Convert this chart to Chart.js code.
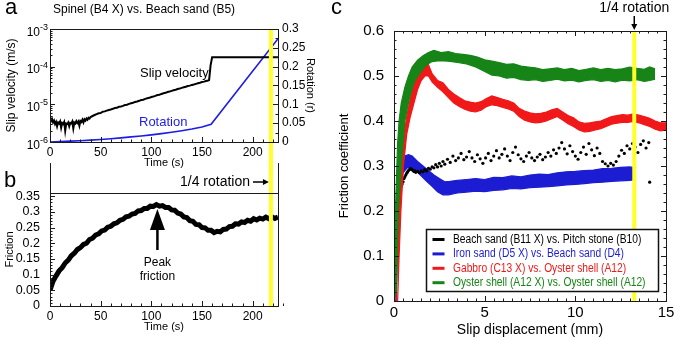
<!DOCTYPE html>
<html>
<head>
<meta charset="utf-8">
<script src="https://cdn.jsdelivr.net/npm/chart.js@4.4.1/dist/chart.umd.min.js"></script>
<style>
  html, body { margin: 0; padding: 0; background: #fff; }
  #wrap { position: relative; width: 685px; height: 340px; overflow: hidden; background: #fff; }
  canvas { position: absolute; }
</style>
</head>
<body>
<div id="wrap">
  <canvas id="chartA" width="318" height="175" style="left:0;top:0"></canvas>
  <canvas id="chartB" width="300" height="180" style="left:0;top:160px"></canvas>
  <canvas id="chartC" width="367" height="340" style="left:318px;top:0"></canvas>
</div>
<script>
// panel a : slip velocity (m/s) vs time (s)
const slipVelocity = [
  [0,4.4e-6],[1,3.6e-6],[2,4.1e-6],[3,3.3e-6],[4,3.7e-6],[5,3.0e-6],[6,3.4e-6],[7,2.6e-6],[8,3.3e-6],[9,3.1e-6],
  [10,3.5e-6],[11,2.4e-6],[12,3.2e-6],[13,3.0e-6],[14,3.4e-6],[15,2.0e-6],[16,3.1e-6],[17,3.0e-6],[18,3.3e-6],[19,2.6e-6],
  [20,3.2e-6],[21,3.1e-6],[22,3.5e-6],[23,2.3e-6],[24,3.3e-6],[25,3.1e-6],[26,3.6e-6],[27,3.2e-6],[28,3.5e-6],[29,2.7e-6],
  [30,3.6e-6],[31,3.4e-6],[32,3.9e-6],[33,3.3e-6],[34,4.0e-6],[35,3.7e-6],[36,4.2e-6],[37,3.9e-6],[38,4.4e-6],[39,4.2e-6],
  [40,4.6e-6],[42,4.9e-6],[44,5.2e-6],[46,5.5e-6],[48,5.8e-6],[50,5.9e-6],[52,6.4e-6],[54,6.5e-6],[56,6.8e-6],[58,7.1e-6],
  [60,7.3e-6],[62,7.6e-6],[64,8.0e-6],[66,8.1e-6],[68,8.6e-6],[70,8.8e-6],[72,9.1e-6],[74,9.6e-6],[76,9.8e-6],[78,1.03e-5],
  [80,1.07e-5],[82,1.1e-5],[84,1.16e-5],[86,1.19e-5],[88,1.24e-5],[90,1.3e-5],[92,1.33e-5],[94,1.4e-5],[96,1.45e-5],[98,1.49e-5],
  [100,1.57e-5],[102,1.62e-5],[104,1.68e-5],[106,1.76e-5],[108,1.8e-5],[110,1.89e-5],[112,1.96e-5],[114,2.02e-5],[116,2.12e-5],[118,2.18e-5],
  [120,2.28e-5],[122,2.36e-5],[124,2.44e-5],[126,2.55e-5],[128,2.62e-5],[130,2.74e-5],[132,2.83e-5],[134,2.93e-5],[136,3.06e-5],[138,3.14e-5],
  [140,3.28e-5],[142,3.37e-5],[144,3.5e-5],[146,3.63e-5],[148,3.74e-5],[150,3.9e-5],[152,4.0e-5],[154,4.16e-5],[156,4.3e-5],[157,4.4e-5],
  [158.5,1.1e-4],[160,1.78e-4],[225,1.78e-4]
];
// panel a : rotation (r) vs time (s)
const rotation = [
  [0,0],[10,0.001],[20,0.0022],[30,0.0035],[40,0.005],[50,0.0068],[60,0.0088],[70,0.011],[80,0.0135],[90,0.016],
  [100,0.019],[110,0.0222],[120,0.026],[130,0.03],[140,0.0345],[150,0.04],[159,0.047],[225,0.274]
];
// panel b : friction vs time (s)
const friction = [
  [0,0.05],[3,0.079],[6,0.096],[9,0.112],[12,0.122],[15,0.137],[18,0.146],[21,0.16],[24,0.168],[27,0.18],
  [30,0.186],[33,0.196],[36,0.2],[39,0.212],[42,0.216],[45,0.226],[48,0.23],[51,0.239],[54,0.242],[57,0.251],
  [60,0.254],[63,0.262],[66,0.265],[69,0.273],[72,0.276],[75,0.284],[78,0.286],[81,0.293],[84,0.295],[87,0.303],
  [90,0.304],[93,0.311],[96,0.311],[99,0.318],[102,0.317],[105,0.323],[108,0.318],[111,0.32],[114,0.314],[117,0.314],
  [120,0.306],[123,0.305],[126,0.296],[129,0.293],[132,0.284],[135,0.282],[138,0.272],[141,0.27],[144,0.26],[147,0.259],
  [150,0.25],[153,0.249],[156,0.241],[159,0.241],[162,0.234],[165,0.238],[168,0.236],[171,0.244],[174,0.245],[177,0.253],
  [180,0.254],[183,0.262],[186,0.261],[189,0.268],[192,0.266],[195,0.273],[198,0.27],[201,0.278],[204,0.274],[207,0.28],
  [210,0.277],[213,0.283],[216,0.278],[219,0.284],[222,0.279],[225,0.283]
];
const quarterTime = 218;     // time of 1/4 rotation (s)
const peakTime = 106;        // peak friction arrow
const peakArrowTip = 0.309;

// panel c : friction coefficient vs slip displacement (mm), dense bands given by upper / lower edge
const greenUpper = [
  [0,0.02],[0.03,0.1],[0.08,0.2],[0.14,0.28],[0.2,0.35],[0.28,0.4],[0.4,0.44],[0.6,0.475],[0.8,0.5],[1.0,0.52],
  [1.3,0.535],[1.6,0.545],[1.9,0.552],[2.2,0.557],[2.6,0.552],[3.0,0.554],[3.4,0.55],[3.8,0.548],[4.2,0.546],[4.6,0.542],
  [5.0,0.536],[5.4,0.533],[5.8,0.53],[6.2,0.526],[6.6,0.527],[7.0,0.522],[7.4,0.52],[7.8,0.518],[8.2,0.514],[8.6,0.516],
  [9.0,0.518],[9.4,0.514],[9.8,0.517],[10.2,0.512],[10.6,0.515],[11.0,0.518],[11.4,0.514],[11.8,0.517],[12.2,0.514],[12.6,0.516],
  [13.0,0.52],[13.4,0.517],[13.8,0.515],[14.1,0.52],[14.4,0.516]
];
const greenLower = [
  [0,0],[0.12,0.02],[0.18,0.1],[0.24,0.2],[0.4,0.3],[0.6,0.4],[0.85,0.45],[1.1,0.485],[1.4,0.505],[1.8,0.525],
  [2.1,0.532],[2.5,0.534],[3.0,0.533],[3.5,0.53],[4.0,0.527],[4.5,0.52],[5.0,0.51],[5.4,0.502],[5.8,0.5],[6.2,0.495],
  [6.6,0.497],[7.0,0.492],[7.4,0.49],[7.8,0.492],[8.2,0.488],[8.6,0.49],[9.0,0.493],[9.4,0.489],[9.8,0.491],[10.2,0.487],
  [10.6,0.49],[11.0,0.492],[11.4,0.488],[11.8,0.49],[12.2,0.487],[12.6,0.491],[13.0,0.489],[13.4,0.492],[13.8,0.488],[14.1,0.49],[14.4,0.493]
];
const redUpper = [
  [0.1,0],[0.18,0.1],[0.28,0.2],[0.4,0.3],[0.55,0.37],[0.7,0.41],[0.9,0.45],[1.1,0.48],[1.3,0.505],[1.5,0.52],
  [1.7,0.528],[1.9,0.525],[2.1,0.505],[2.4,0.49],[2.7,0.485],[3.0,0.47],[3.3,0.46],[3.6,0.452],[3.9,0.445],[4.2,0.442],
  [4.5,0.44],[4.8,0.443],[5.1,0.45],[5.4,0.456],[5.7,0.452],[6.0,0.448],[6.3,0.445],[6.6,0.44],[6.9,0.428],[7.2,0.422],
  [7.5,0.418],[7.8,0.416],[8.1,0.417],[8.4,0.42],[8.7,0.425],[9.0,0.428],[9.3,0.42],[9.6,0.412],[9.9,0.407],[10.2,0.398],
  [10.5,0.395],[10.8,0.396],[11.1,0.398],[11.4,0.4],[11.7,0.405],[12.0,0.41],[12.3,0.412],[12.6,0.414],[12.9,0.413],[13.2,0.416],
  [13.5,0.413],[13.8,0.41],[14.1,0.406],[14.4,0.4],[14.7,0.396],[15.0,0.396]
];
const redLower = [
  [0.2,0],[0.28,0.1],[0.38,0.2],[0.52,0.3],[0.7,0.37],[0.9,0.41],[1.1,0.44],[1.3,0.47],[1.5,0.49],[1.7,0.5],
  [1.9,0.5],[2.1,0.487],[2.4,0.475],[2.7,0.465],[3.0,0.452],[3.3,0.44],[3.6,0.432],[3.9,0.426],[4.2,0.422],[4.5,0.42],
  [4.8,0.424],[5.1,0.432],[5.4,0.436],[5.7,0.434],[6.0,0.43],[6.3,0.427],[6.6,0.422],[6.9,0.41],[7.2,0.402],[7.5,0.398],
  [7.8,0.396],[8.1,0.397],[8.4,0.4],[8.7,0.405],[9.0,0.41],[9.3,0.402],[9.6,0.394],[9.9,0.388],[10.2,0.38],[10.5,0.376],
  [10.8,0.377],[11.1,0.38],[11.4,0.383],[11.7,0.388],[12.0,0.393],[12.3,0.395],[12.6,0.397],[12.9,0.397],[13.2,0.399],[13.5,0.396],
  [13.8,0.392],[14.1,0.388],[14.4,0.382],[14.7,0.378],[15.0,0.38]
];
const blueUpper = [
  [0.05,0],[0.1,0.1],[0.15,0.2],[0.22,0.26],[0.3,0.29],[0.45,0.31],[0.6,0.322],[0.8,0.325],[1.0,0.322],[1.3,0.31],
  [1.6,0.3],[1.9,0.29],[2.2,0.28],[2.5,0.272],[2.8,0.265],[3.1,0.266],[3.5,0.268],[4.0,0.27],[4.5,0.272],[5.0,0.27],
  [5.5,0.275],[6.0,0.274],[6.5,0.278],[7.0,0.276],[7.5,0.28],[8.0,0.282],[8.5,0.281],[9.0,0.285],[9.5,0.287],[10.0,0.288],
  [10.5,0.29],[11.0,0.291],[11.5,0.294],[12.0,0.295],[12.5,0.297],[13.0,0.298],[13.35,0.296]
];
const blueLower = [
  [0.12,0],[0.18,0.1],[0.25,0.2],[0.35,0.26],[0.5,0.285],[0.7,0.295],[0.9,0.298],[1.2,0.29],[1.5,0.278],[1.8,0.266],
  [2.1,0.255],[2.4,0.243],[2.7,0.236],[3.0,0.236],[3.5,0.24],[4.0,0.242],[4.5,0.244],[5.0,0.243],[5.5,0.246],[6.0,0.247],
  [6.5,0.25],[7.0,0.249],[7.5,0.252],[8.0,0.253],[8.5,0.254],[9.0,0.256],[9.5,0.258],[10.0,0.259],[10.5,0.261],[11.0,0.263],
  [11.5,0.264],[12.0,0.266],[12.5,0.267],[13.0,0.268],[13.35,0.27]
];
const blackPoints = [
  [0.02,0.0],[0.05,0.05],[0.1,0.12],[0.15,0.17],[0.2,0.2],[0.25,0.22],[0.3,0.235],[0.35,0.245],[0.4,0.255],[0.45,0.26],
  [0.5,0.265],[0.55,0.272],[0.6,0.276],[0.65,0.28],[0.7,0.284],[0.75,0.287],[0.8,0.29],[0.85,0.292],[0.9,0.294],[0.95,0.293],
  [1.0,0.292],[1.05,0.29],[1.1,0.288],[1.15,0.289],[1.2,0.286],[1.3,0.288],[1.4,0.285],[1.5,0.289],[1.6,0.287],[1.7,0.292],
  [1.8,0.289],[1.9,0.295],[2.0,0.293],[2.1,0.298],[2.2,0.296],[2.3,0.303],[2.4,0.298],[2.5,0.306],[2.6,0.3],[2.7,0.31],
  [2.8,0.304],[2.95,0.315],[3.1,0.308],[3.25,0.322],[3.4,0.312],[3.55,0.318],[3.7,0.328],[3.85,0.314],[4.0,0.32],[4.15,0.332],
  [4.3,0.318],[4.45,0.31],[4.6,0.325],[4.75,0.316],[4.9,0.306],[5.05,0.318],[5.2,0.328],[5.35,0.312],[5.5,0.322],[5.65,0.334],
  [5.8,0.318],[5.95,0.326],[6.1,0.338],[6.25,0.322],[6.4,0.312],[6.55,0.33],[6.7,0.342],[6.85,0.325],[7.0,0.316],[7.15,0.31],
  [7.3,0.322],[7.45,0.33],[7.6,0.318],[7.75,0.312],[7.9,0.32],[8.05,0.326],[8.2,0.314],[8.35,0.32],[8.5,0.33],[8.65,0.322],
  [8.8,0.336],[8.95,0.328],[9.1,0.34],[9.25,0.352],[9.4,0.338],[9.55,0.327],[9.7,0.345],[9.85,0.332],[10.0,0.322],[10.15,0.315],
  [10.3,0.33],[10.45,0.342],[10.6,0.326],[10.75,0.35],[10.9,0.336],[11.05,0.323],[11.2,0.34],[11.35,0.328],[11.5,0.31],[11.65,0.305],
  [11.8,0.3],[11.95,0.306],[12.1,0.302],[12.25,0.31],[12.4,0.322],[12.55,0.335],[12.7,0.328],[12.85,0.345],[13.0,0.338],[13.15,0.35],
  [13.3,0.342],[13.45,0.33],[13.6,0.348],[13.75,0.356],[13.9,0.34],[14.05,0.352],[14.1,0.264]
];
const quarterDisp = 13.25;   // slip displacement at 1/4 rotation (mm)
const legendLabels = [
  'Beach sand (B11 X) vs. Pitch stone (B10)',
  'Iron sand (D5 X) vs. Beach sand (D4)',
  'Gabbro (C13 X) vs. Oyster shell (A12)',
  'Oyster shell (A12 X) vs. Oyster shell (A12)'
];
const seriesColors = ['#000000', '#1c1cd2', '#f01818', '#168416'];

const FONT = '"Liberation Sans", Arial, Helvetica, sans-serif';
const YELLOW = '#ffff2a';
const ROT_BLUE = '#1c1ce6';
Chart.defaults.font.family = FONT;
Chart.defaults.color = '#000';

function font(size) { return size + 'px ' + FONT; }
// plain tick numbers: 0.3 rather than 0.30
const plainNum = v => String(parseFloat(Number(v).toFixed(4)));

// inward tick marks + frame, drawn from the scales
const frameTicks = {
  id: 'frameTicks',
  afterDatasetsDraw(chart, args, opts) {
    const ctx = chart.ctx, a = chart.chartArea;
    ctx.save();
    ctx.strokeStyle = '#1a1a1a';
    ctx.lineWidth = 1;
    ctx.beginPath();
    for (const ax of opts.axes) {
      const sc = chart.scales[ax.id];
      const vals = [];
      if (ax.log) {
        const e0 = Math.round(Math.log10(sc.min)), e1 = Math.round(Math.log10(sc.max));
        for (let e = e0; e <= e1; e++) {
          for (let m = 1; m <= 9; m++) {
            const v = m * Math.pow(10, e);
            if (v > sc.max * 1.0001) break;
            vals.push([v, m === 1]);
          }
        }
      } else {
        const n = Math.round((sc.max - sc.min) / ax.minor);
        for (let i = 0; i <= n; i++) {
          const v = sc.min + i * ax.minor;
          const r = v / ax.major;
          vals.push([v, Math.abs(r - Math.round(r)) < 1e-6]);
        }
      }
      for (const [v, major] of vals) {
        const p = Math.round(sc.getPixelForValue(v)) + 0.5;
        const len = major ? 5 : 2.5;
        for (const side of ax.sides) {
          if (side === 'bottom') { ctx.moveTo(p, a.bottom); ctx.lineTo(p, a.bottom - len); }
          if (side === 'top') { ctx.moveTo(p, a.top); ctx.lineTo(p, a.top + len); }
          if (side === 'left') { ctx.moveTo(a.left, p); ctx.lineTo(a.left + len, p); }
          if (side === 'right') { ctx.moveTo(a.right, p); ctx.lineTo(a.right - len, p); }
        }
      }
    }
    ctx.stroke();
    ctx.strokeRect(Math.round(a.left) + 0.5, Math.round(a.top) + 0.5, Math.round(a.width), Math.round(a.height));
    ctx.restore();
  }
};

function arrowHead(ctx, x, y, dir, len, half) {
  // dir: 'right' or 'down'
  ctx.beginPath();
  if (dir === 'right') { ctx.moveTo(x, y); ctx.lineTo(x - len, y - half); ctx.lineTo(x - len, y + half); }
  else { ctx.moveTo(x, y); ctx.lineTo(x - half, y - len); ctx.lineTo(x + half, y - len); }
  ctx.closePath();
  ctx.fill();
}

const panelA = {
  id: 'panelA',
  afterDatasetsDraw(chart) {
    const ctx = chart.ctx, a = chart.chartArea;
    const xq = chart.scales.x.getPixelForValue(quarterTime);
    ctx.save();
    ctx.fillStyle = YELLOW;
    ctx.fillRect(xq - 2, a.top, 4, chart.height - a.top);
    ctx.restore();
  },
  afterDraw(chart) {
    const ctx = chart.ctx, a = chart.chartArea, y = chart.scales.y;
    ctx.save();
    ctx.fillStyle = '#000';
    ctx.textAlign = 'right';
    ctx.textBaseline = 'alphabetic';
    for (let e = -6; e <= -3; e++) {
      const py = y.getPixelForValue(Math.pow(10, e));
      const sup = String(e);
      ctx.font = font(9);
      const sw = ctx.measureText(sup).width;
      ctx.fillText(sup, a.left - 2, py + 1);
      ctx.font = font(12);
      ctx.fillText('10', a.left - 2 - sw, py + 6.5);
    }
    ctx.textAlign = 'left';
    ctx.font = font(22);
    ctx.fillText('a', 5, 13.5);
    ctx.textBaseline = 'middle';
    ctx.font = font(12);
    ctx.fillText('Spinel (B4 X) vs. Beach sand (B5)', 53, 9.5);
    ctx.font = font(13);
    ctx.fillText('Slip velocity', 140, 73);
    ctx.fillStyle = ROT_BLUE;
    ctx.fillText('Rotation', 139, 122.5);
    ctx.restore();
  }
};

const panelB = {
  id: 'panelB',
  afterDatasetsDraw(chart) {
    const ctx = chart.ctx, a = chart.chartArea;
    const xq = chart.scales.x.getPixelForValue(quarterTime);
    ctx.save();
    ctx.fillStyle = YELLOW;
    ctx.fillRect(xq - 2, 0, 4, a.bottom);
    ctx.restore();
  },
  afterDraw(chart) {
    const ctx = chart.ctx, a = chart.chartArea, x = chart.scales.x, y = chart.scales.y;
    const xq = x.getPixelForValue(quarterTime);
    ctx.save();
    ctx.strokeStyle = '#1a1a1a';
    ctx.lineWidth = 1;
    ctx.beginPath();
    ctx.moveTo(Math.round(a.left) + 0.5, 3); ctx.lineTo(Math.round(a.left) + 0.5, a.top);
    ctx.moveTo(Math.round(a.right) + 0.5, 3); ctx.lineTo(Math.round(a.right) + 0.5, a.top);
    ctx.stroke();
    ctx.fillStyle = '#000';
    ctx.textBaseline = 'alphabetic';
    ctx.textAlign = 'left';
    ctx.font = font(22);
    ctx.fillText('b', 4, 27);
    // 1/4 rotation arrow
    ctx.font = font(14);
    ctx.textAlign = 'right';
    ctx.textBaseline = 'middle';
    ctx.fillText('1/4 rotation', 250, 22);
    ctx.lineWidth = 1.5;
    ctx.strokeStyle = '#000';
    ctx.beginPath();
    ctx.moveTo(253, 22); ctx.lineTo(xq - 6, 22);
    ctx.stroke();
    arrowHead(ctx, xq - 2, 22, 'right', 6, 3);
    // peak friction arrow
    const tx = x.getPixelForValue(peakTime), ty = y.getPixelForValue(peakArrowTip);
    ctx.beginPath();
    ctx.moveTo(tx, ty); ctx.lineTo(tx - 7.5, ty + 21); ctx.lineTo(tx + 7.5, ty + 21); ctx.closePath();
    ctx.fill();
    ctx.lineWidth = 2.5;
    ctx.beginPath();
    ctx.moveTo(tx, ty + 18); ctx.lineTo(tx, ty + 41);
    ctx.stroke();
    ctx.textAlign = 'center';
    ctx.font = font(12);
    ctx.fillText('Peak', tx, ty + 54);
    ctx.fillText('friction', tx, ty + 68);
    ctx.restore();
  }
};

const panelC = {
  id: 'panelC',
  afterDatasetsDraw(chart) {
    const ctx = chart.ctx, a = chart.chartArea;
    const xq = chart.scales.x.getPixelForValue(quarterDisp);
    ctx.save();
    ctx.fillStyle = YELLOW;
    ctx.fillRect(xq - 2, a.top, 4, a.height);
    ctx.restore();
  },
  afterDraw(chart) {
    const ctx = chart.ctx, a = chart.chartArea;
    const xq = chart.scales.x.getPixelForValue(quarterDisp);
    ctx.save();
    ctx.fillStyle = '#000';
    ctx.textAlign = 'left';
    ctx.textBaseline = 'alphabetic';
    ctx.font = font(22);
    ctx.fillText('c', 13, 14);
    ctx.textAlign = 'center';
    ctx.textBaseline = 'middle';
    ctx.font = font(14);
    ctx.fillText('1/4 rotation', xq, 8.5);
    ctx.strokeStyle = '#000';
    ctx.lineWidth = 1.5;
    ctx.beginPath();
    ctx.moveTo(xq, 16); ctx.lineTo(xq, a.top - 5);
    ctx.stroke();
    arrowHead(ctx, xq, a.top - 1, 'down', 6, 3);
    // legend box
    const bw = 232, bh = 62;
    const bx = Math.round(a.right - 8 - bw) + 0.5, by = Math.round(a.bottom - 10 - bh) + 0.5;
    ctx.fillStyle = '#fff';
    ctx.fillRect(bx, by, bw, bh);
    ctx.strokeStyle = '#111';
    ctx.lineWidth = 1.5;
    ctx.strokeRect(bx, by, bw, bh);
    ctx.textAlign = 'left';
    ctx.font = font(12.5);
    legendLabels.forEach((label, i) => {
      const ry = by + 10 + i * 14.4;
      ctx.strokeStyle = seriesColors[i];
      ctx.lineWidth = 3;
      ctx.beginPath();
      ctx.moveTo(bx + 6, ry); ctx.lineTo(bx + 18, ry);
      ctx.stroke();
      ctx.fillStyle = seriesColors[i];
      ctx.save();
      ctx.translate(bx + 26.5, ry);
      ctx.scale(0.82, 1);
      ctx.fillText(label, 0, 0);
      ctx.restore();
    });
    ctx.restore();
  }
};

const noGrid = { display: false, drawTicks: false };
const noBorder = { display: false };

new Chart(document.getElementById('chartA'), {
  type: 'line',
  data: {
    datasets: [
      { data: slipVelocity, yAxisID: 'y', borderColor: '#000', borderWidth: 2, pointRadius: 0, tension: 0 },
      { data: rotation, yAxisID: 'y2', borderColor: ROT_BLUE, borderWidth: 1.6, pointRadius: 0, tension: 0 }
    ]
  },
  options: {
    responsive: false,
    animation: false,
    layout: { padding: { top: 29, right: 0, bottom: 0, left: 0 } },
    plugins: {
      legend: { display: false },
      tooltip: { enabled: false },
      frameTicks: { axes: [
        { id: 'x', sides: ['bottom'], major: 50, minor: 10 },
        { id: 'y', sides: ['left'], log: true },
        { id: 'y2', sides: ['right'], major: 0.05, minor: 0.025 }
      ] }
    },
    scales: {
      x: {
        type: 'linear', min: 0, max: 225,
        afterFit: s => { s.height = 33; },
        grid: noGrid, border: noBorder,
        ticks: { stepSize: 50, includeBounds: false, autoSkip: false, maxRotation: 0, padding: 3, font: { size: 12 }, callback: plainNum },
        title: { display: true, text: 'Time (s)', font: { size: 11 }, padding: { top: 0, bottom: 5 } }
      },
      y: {
        type: 'logarithmic', position: 'left', min: 1e-6, max: 1e-3,
        afterFit: s => { s.width = 50; },
        grid: noGrid, border: noBorder,
        ticks: { display: false },
        title: { display: true, text: 'Slip velocity (m/s)', font: { size: 12 }, padding: { top: 4, bottom: 0 } }
      },
      y2: {
        type: 'linear', position: 'right', min: 0, max: 0.3,
        afterFit: s => { s.width = 40; },
        grid: noGrid, border: noBorder,
        ticks: { stepSize: 0.05, padding: 4, font: { size: 12 }, callback: plainNum },
        title: { display: true, text: 'Rotation (r)', font: { size: 11 }, padding: { top: 1, bottom: 0 } }
      }
    }
  },
  plugins: [panelA, frameTicks]
});

new Chart(document.getElementById('chartB'), {
  type: 'line',
  data: {
    datasets: [
      { data: friction, borderColor: '#000', borderWidth: 5, pointRadius: 0, tension: 0 }
    ]
  },
  options: {
    responsive: false,
    animation: false,
    layout: { padding: { top: 33, right: 22, bottom: 0, left: 0 } },
    plugins: {
      legend: { display: false },
      tooltip: { enabled: false },
      frameTicks: { axes: [
        { id: 'x', sides: ['bottom'], major: 50, minor: 10 },
        { id: 'y', sides: ['left'], major: 0.05, minor: 0.01 }
      ] }
    },
    scales: {
      x: {
        type: 'linear', min: 0, max: 225,
        afterFit: s => { s.height = 34; },
        grid: noGrid, border: noBorder,
        ticks: { stepSize: 50, includeBounds: false, autoSkip: false, maxRotation: 0, padding: 3, font: { size: 12 }, callback: plainNum },
        title: { display: true, text: 'Time (s)', font: { size: 11 }, padding: { top: 0, bottom: 6.5 } }
      },
      y: {
        type: 'linear', min: 0, max: 0.36,
        afterFit: s => { s.width = 50; },
        grid: noGrid, border: noBorder,
        ticks: { stepSize: 0.05, includeBounds: false, autoSkip: false, padding: 10, font: { size: 12.5 }, callback: plainNum },
        title: { display: true, text: 'Friction', font: { size: 11 }, padding: { top: 3.5, bottom: 0 } }
      }
    }
  },
  plugins: [panelB, frameTicks]
});

function band(data, color, fillTo) {
  return { data: data, borderColor: color, backgroundColor: color, borderWidth: 1.2,
           pointRadius: 0, tension: 0, fill: fillTo === undefined ? false : fillTo };
}

new Chart(document.getElementById('chartC'), {
  type: 'line',
  data: {
    datasets: [
      band(greenUpper, seriesColors[3], 1),
      band(greenLower, seriesColors[3]),
      band(redUpper, seriesColors[2], 3),
      band(redLower, seriesColors[2]),
      { data: blackPoints, showLine: false, pointRadius: 1.6, pointBorderWidth: 0,
        pointBackgroundColor: seriesColors[0], borderColor: seriesColors[0] },
      band(blueUpper, seriesColors[1], 6),
      band(blueLower, seriesColors[1])
    ]
  },
  options: {
    responsive: false,
    animation: false,
    layout: { padding: { top: 31, right: 19, bottom: 0, left: 0 } },
    plugins: {
      legend: { display: false },
      tooltip: { enabled: false },
      frameTicks: { axes: [
        { id: 'x', sides: ['bottom', 'top'], major: 5, minor: 0.5 },
        { id: 'y', sides: ['left', 'right'], major: 0.1, minor: 0.02 }
      ] }
    },
    scales: {
      x: {
        type: 'linear', min: 0, max: 15,
        afterFit: s => { s.height = 39; },
        grid: noGrid, border: noBorder,
        ticks: { stepSize: 5, autoSkip: false, maxRotation: 0, padding: 3, font: { size: 15 }, callback: plainNum },
        title: { display: true, text: 'Slip displacement (mm)', font: { size: 14 }, padding: { top: 0, bottom: 1.5 } }
      },
      y: {
        type: 'linear', min: 0, max: 0.6,
        afterFit: s => { s.width = 76; },
        grid: noGrid, border: noBorder,
        ticks: { stepSize: 0.1, autoSkip: false, padding: 10, font: { size: 15 }, callback: plainNum },
        title: { display: true, text: 'Friction coefficient', font: { size: 13 }, padding: { top: 19, bottom: 0 } }
      }
    }
  },
  plugins: [panelC, frameTicks]
});
</script>
</body>
</html>
